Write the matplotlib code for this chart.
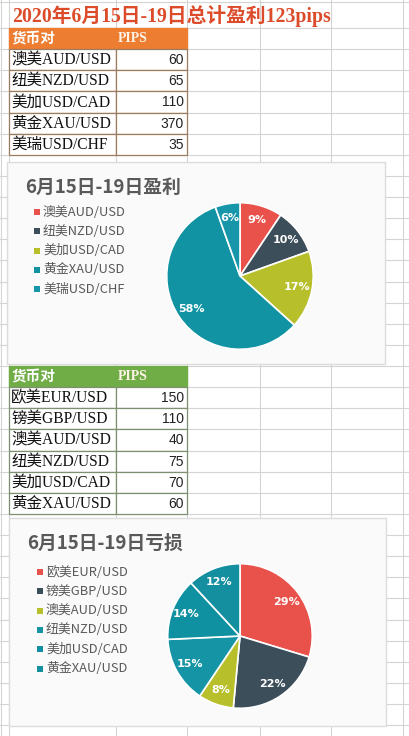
import matplotlib.pyplot as plt
from matplotlib.patches import Rectangle

# 数据
title_text = '2020年6月15日-19日总计盈利123pips'
header = ['货币对', 'PIPS']

pairs_profit = ['澳美AUD/USD', '纽美NZD/USD', '美加USD/CAD', '黄金XAU/USD', '美瑞USD/CHF']
pips_profit = [60, 65, 110, 370, 35]
pct_profit = ['9%', '10%', '17%', '58%', '6%']

pairs_loss = ['欧美EUR/USD', '镑美GBP/USD', '澳美AUD/USD', '纽美NZD/USD', '美加USD/CAD', '黄金XAU/USD']
pips_loss = [150, 110, 40, 75, 70, 60]
pct_loss = ['29%', '22%', '8%', '15%', '14%', '12%']

colors_profit = ['#E8524B', '#3D4E5B', '#B7C02B', '#1193A3', '#1796A9']
colors_loss = ['#E8524B', '#3D4E5B', '#B7C02B', '#1594A6', '#1091A1', '#138FA0']

W, H = 409, 736
SERIF = ['Liberation Serif', 'Noto Sans CJK SC']
SANS = ['Noto Sans CJK SC', 'DejaVu Sans']

fig = plt.figure(figsize=(W / 100, H / 100), dpi=100)
fig.patch.set_facecolor('white')
bg = fig.add_axes([0, 0, 1, 1])
bg.set_xlim(0, W)
bg.set_ylim(H, 0)
bg.axis('off')

# 表格网格线
row_h = 21.125
cols = [0.5, 9, 116, 187, 260, 331, 403]
rows = [2] + [28 + row_h * k for k in range(34)]
for x in cols:
    bg.plot([x, x], [0, H], color='#d4d4d4', lw=0.8, zorder=1)
for y in rows:
    bg.plot([0, W], [y, y], color='#d4d4d4', lw=0.8, zorder=1)

# 总标题
bg.text(12, 16, title_text, family=SERIF, fontsize=14.2, fontweight='bold',
        color='#dc4b2a', va='center', ha='left', zorder=5)


def draw_table(top, head_color, line_color, pairs, pips):
    bg.add_patch(Rectangle((9, top), 178, row_h, facecolor=head_color,
                           edgecolor=head_color, zorder=2))
    bg.text(12, top + row_h / 2, header[0], family=SERIF, fontsize=10.5,
            fontweight='bold', color='white', va='center', zorder=5)
    bg.text(118, top + row_h / 2, header[1], family=SERIF, fontsize=10,
            fontweight='bold', color='#fff3e8', va='center', zorder=5)
    for i, (name, v) in enumerate(zip(pairs, pips)):
        y = top + row_h * (i + 1)
        bg.add_patch(Rectangle((9, y), 107, row_h, facecolor='white',
                               edgecolor=line_color, lw=0.9, zorder=2))
        bg.add_patch(Rectangle((116, y), 71, row_h, facecolor='white',
                               edgecolor=line_color, lw=0.9, zorder=2))
        bg.text(11, y + row_h / 2 + 0.5, name, family=SERIF, fontsize=11.2,
                color='#111111', va='center', ha='left', zorder=5)
        bg.text(184, y + row_h / 2 + 0.5, str(v), family=['Liberation Sans'],
                fontsize=10, color='#222222', va='center', ha='right', zorder=5)


draw_table(28, '#ED7D31', '#9c7c5e', pairs_profit, pips_profit)
draw_table(28 + row_h * 16, '#70AD47', '#7d9170', pairs_loss, pips_loss)


def draw_chart(box, title, pairs, pips, pcts, colors, cx, cy, r, leg_x, leg_y0):
    x0, y0, x1, y1 = box
    bg.add_patch(Rectangle((x0, y0), x1 - x0, y1 - y0, facecolor='#fafafa',
                           edgecolor='#dcdcdc', lw=1, zorder=3))
    bg.text(x0 + 18, y0 + 25, title, family=SANS, fontsize=13.5,
            fontweight='bold', color='#595959', va='center', zorder=5)
    for i, (name, c) in enumerate(zip(pairs, colors)):
        y = leg_y0 + 19.3 * i
        bg.add_patch(Rectangle((leg_x, y - 3), 6, 6, facecolor=c,
                               edgecolor='none', zorder=5))
        bg.text(leg_x + 9, y, name, family=SANS, fontsize=9.3,
                color='#595959', va='center', ha='left', zorder=5)

    ax = fig.add_axes([(cx - r) / W, (H - cy - r) / H, 2 * r / W, 2 * r / H])
    it = iter(pcts)
    ax.pie(pips, colors=colors, startangle=90, counterclock=False,
           autopct=lambda p: next(it), pctdistance=0.8,
           wedgeprops=dict(edgecolor='white', linewidth=1.2),
           textprops=dict(color='white', fontsize=8, fontweight='bold',
                          family=['DejaVu Sans']))
    ax.set_xlim(-1.01, 1.01)
    ax.set_ylim(-1.01, 1.01)
    ax.set_aspect('equal')
    ax.axis('off')


draw_chart((7, 162, 385, 364), '6月15日-19日盈利', pairs_profit, pips_profit,
           pct_profit, colors_profit, 240, 276, 74, 34, 212)
draw_chart((9, 518, 386, 726), '6月15日-19日亏损', pairs_loss, pips_loss,
           pct_loss, colors_loss, 240, 636, 73, 37, 572)

fig.savefig('out.png', dpi=100)
